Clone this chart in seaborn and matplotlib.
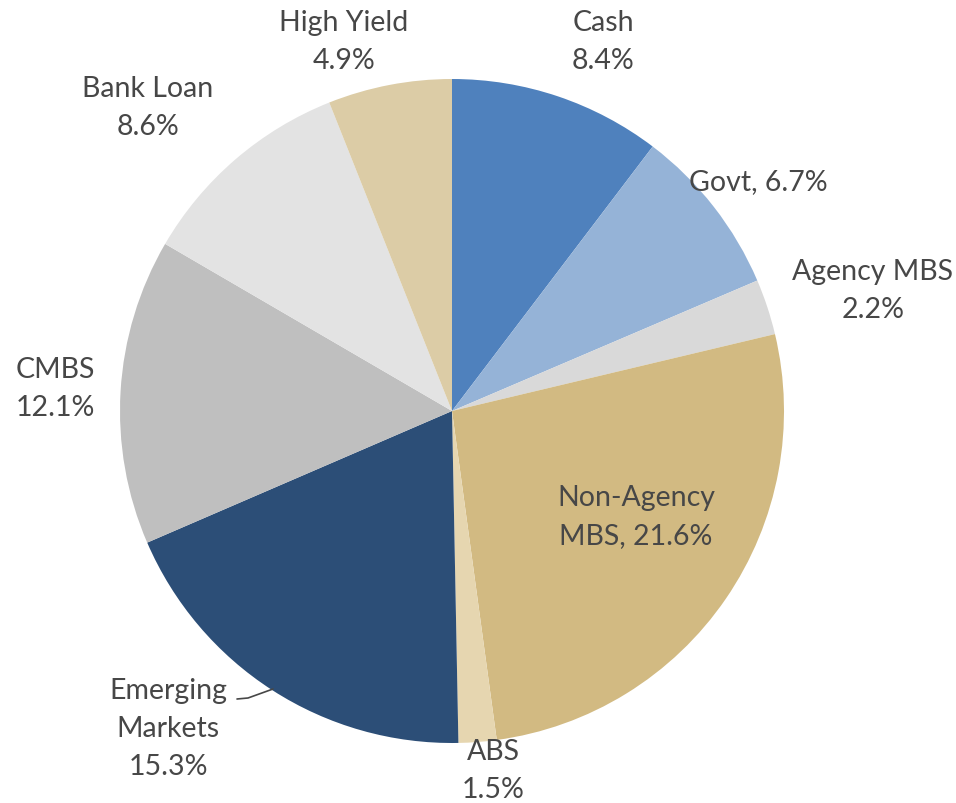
import matplotlib
matplotlib.use("Agg")
import matplotlib.pyplot as plt
import seaborn as sns

sns.set_theme(style="white")
plt.rcParams["font.family"] = ["Lato", "DejaVu Sans"]

# Portfolio sector allocation
sectors = ["Cash", "Govt", "Agency MBS", "Non-Agency MBS", "ABS",
           "Emerging Markets", "CMBS", "Bank Loan", "High Yield"]
weights = [8.4, 6.7, 2.2, 21.6, 1.5, 15.3, 12.1, 8.6, 4.9]
colors = ["#4F81BD", "#95B3D7", "#D9D9D9", "#D2BA82", "#E6D6B0",
          "#2C4E77", "#BFBFBF", "#E3E3E3", "#DCCCA6"]

# label text templates: name/value layout per sector
label_fmt = ["{n}\n{v}%", "{n}, {v}%", "{n}\n{v}%", "Non-Agency\nMBS, {v}%",
             "{n}\n{v}%", "Emerging\nMarkets\n{v}%", "{n}\n{v}%",
             "{n}\n{v}%", "{n}\n{v}%"]
# label centres in pixel coordinates (x right, y down)
label_xy = [(603, 42), (758, 182), (873, 291), (636, 517), (493, 771),
            (168, 729), (55, 389), (148, 108), (344, 42)]

W, H = 956, 804
fig = plt.figure(figsize=(W / 100, H / 100), dpi=100)
ax = fig.add_axes([0, 0, 1, 1])

cx, cy, r = 452, 412, 332
ax.pie(weights, colors=colors, startangle=90, counterclock=False,
       center=(cx, H - cy), radius=r, frame=True,
       wedgeprops=dict(linewidth=0))
ax.set_xlim(0, W)
ax.set_ylim(0, H)
ax.set_aspect("equal")
ax.axis("off")

for name, val, fmt, (x, y) in zip(sectors, weights, label_fmt, label_xy):
    ax.text(x, H - y, fmt.format(n=name, v=val), ha="center", va="center",
            fontsize=20.5, color="#474747", linespacing=1.55)

# leader line for the Emerging Markets label
ax.plot([237, 248, 273], [H - 700, H - 699, H - 690], color="#474747", lw=1.2)

fig.savefig("out.png", dpi=100, facecolor="white")
